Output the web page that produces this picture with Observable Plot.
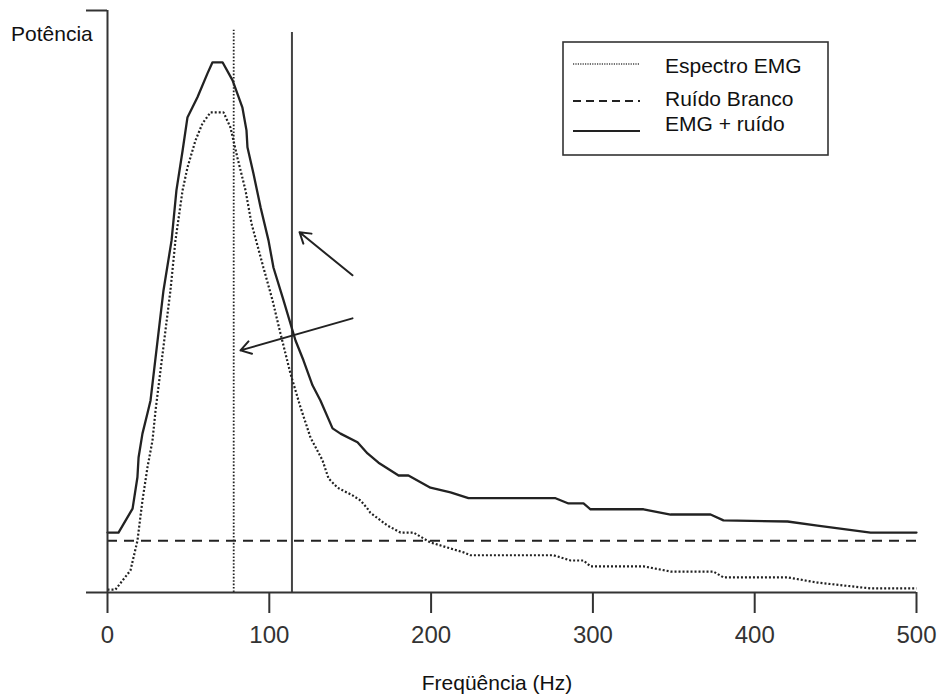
<!DOCTYPE html>
<html><head><meta charset="utf-8">
<script src="https://cdn.jsdelivr.net/npm/d3@7"></script>
<script src="https://cdn.jsdelivr.net/npm/@observablehq/plot@0.6"></script>
<style>
body{margin:0;background:#fff;}
#wrap{position:relative;width:938px;height:697px;font-family:"Liberation Sans",Arial,sans-serif;}
#wrap svg.overlay{position:absolute;left:0;top:0;pointer-events:none;}
</style></head><body><div id="wrap"></div>
<script>
// Espectro EMG (dotted)
const emgFreq = [0,4.9,14.2,18.5,21.6,24.7,27.8,29.7,38.9,42,46.4,49.4,54.4,58.7,63.7,71.7,76,80.3,85.3,89,96.4,102,106.9,113.1,119.3,125.5,132.9,136.6,142.2,151.4,156.4,160.7,162.5,173,181.1,189.1,199.6,220,224.3,275.6,286.2,294.2,298.5,331.3,348,374.5,380.7,420.3,438.8,471.6,500];
const emgPow  = [0.5,0.5,3.8,8.9,15.8,21.5,26.1,31.3,51.9,60.5,69.1,73.0,77.7,80.6,82.5,82.5,79.9,74.7,69.1,63.4,55.8,50.2,44.5,37.6,31.8,26.6,22.7,19.6,18.0,16.7,15.8,14.4,13.7,11.5,10.3,10.3,8.6,6.9,6.4,6.4,5.5,5.5,4.5,4.5,3.6,3.6,2.6,2.6,1.7,0.7,0.7];
// EMG + ruído (solid)
const sumFreq = [0,6.8,15.5,18.5,19.2,21.6,24.7,26.6,34.6,39.6,42.6,46.4,49.4,55.6,61.8,64.9,71.1,77.3,83.4,85.9,86.5,90.2,94.6,99.5,102.6,108.8,116.2,121.1,126.7,131.6,139.1,144,154.5,160.7,167.5,173.1,179.9,186,199.6,212,223.1,276.9,284.9,294.2,298.5,331.3,348,372.7,380.7,420.3,438.8,471.6,500];
const sumPow  = [10.3,10.3,14.4,19.8,23.2,27.3,30.8,33.0,51.9,60.5,69.1,75.9,81.6,85.1,89.2,91.1,91.1,88.0,83.3,79.4,76.5,72.0,66.2,60.5,55.8,50.2,43.3,39.9,35.6,33.0,28.2,27.3,25.8,23.9,22.3,21.3,20.1,20.1,18.0,17.2,16.2,16.2,15.3,15.3,14.3,14.3,13.4,13.4,12.4,12.2,11.5,10.3,10.3];
// Ruído branco (dashed) level
const noiseLevel = 8.9;
// Vertical reference lines
const dottedMarkFreq = 78, dottedMarkTop = 96.6;
const solidMarkFreq = 114, solidMarkTop = 96.2;
// Arrows (tail -> head)
const arrowX1 = [151.4, 151.4], arrowY1 = [54.5, 47.1];
const arrowX2 = [118.7, 82.2],  arrowY2 = [61.9, 41.6];
const xTicks = [0,100,200,300,400,500];
const legendLabels = ["Espectro EMG","Ruído Branco","EMG + ruído"];
const yLabel = "Potência", xLabel = "Freqüência (Hz)";

const emg = emgFreq.map((f,i)=>({f, p: emgPow[i]}));
const sum = sumFreq.map((f,i)=>({f, p: sumPow[i]}));
const arrows = arrowX1.map((x1,i)=>({x1, y1: arrowY1[i], x2: arrowX2[i], y2: arrowY2[i]}));
const ink = "#222";

const chart = Plot.plot({
  width: 938, height: 697,
  marginLeft: 107, marginRight: 22, marginTop: 10, marginBottom: 105,
  x: {domain: [0, 500]},
  y: {domain: [0, 100]},
  style: {fontFamily: "Liberation Sans, Arial, sans-serif", fontSize: "24px", color: ink, background: "#fff"},
  marks: [
    Plot.ruleY([noiseLevel], {x1: 0, x2: 500, stroke: ink, strokeWidth: 2, strokeDasharray: "10,7"}),
    Plot.ruleX([dottedMarkFreq], {y1: 0, y2: dottedMarkTop, stroke: ink, strokeWidth: 1.8, strokeDasharray: "1.6,1.8", strokeLinecap: "butt"}),
    Plot.ruleX([solidMarkFreq], {y1: 0, y2: solidMarkTop, stroke: "#444", strokeWidth: 2}),
    Plot.line(emg, {x: "f", y: "p", stroke: ink, strokeWidth: 2.2, strokeDasharray: "2,2", strokeLinecap: "butt", strokeLinejoin: "miter"}),
    Plot.line(sum, {x: "f", y: "p", stroke: ink, strokeWidth: 2.3}),
    Plot.arrow(arrows, {x1: "x1", y1: "y1", x2: "x2", y2: "y2", stroke: ink, strokeWidth: 2, headLength: 9, headAngle: 65}),
    Plot.ruleY([0], {x1: 0, x2: 500, stroke: "#333", strokeWidth: 2}),
    Plot.ruleX([0], {y1: 0, y2: 100, stroke: "#333", strokeWidth: 2}),
    Plot.axisX({ticks: xTicks, tickSize: 21, tickPadding: 12, strokeWidth: 2, stroke: "#333", label: null, fontSize: 24, fill: "#333"}),
    Plot.axisY({ticks: [0, 100], tickSize: 21, tickFormat: () => "", strokeWidth: 2, stroke: "#333", label: null})
  ]
});
const wrap = document.getElementById("wrap");
wrap.appendChild(chart);

// Overlay: axis titles and legend
const ov = d3.select(wrap).append("svg").attr("class","overlay")
  .attr("width",938).attr("height",697)
  .style("font-family","Liberation Sans, Arial, sans-serif");
ov.append("text").attr("x",11).attr("y",41).attr("font-size",21).attr("fill","#111").text(yLabel);
ov.append("text").attr("x",497).attr("y",690).attr("text-anchor","middle").attr("font-size",21).attr("fill","#111").text(xLabel);

const lg = ov.append("g");
lg.append("rect").attr("x",563).attr("y",42).attr("width",265).attr("height",113)
  .attr("fill","#fff").attr("stroke","#333").attr("stroke-width",1.6);
const sampleY = [64, 101, 131];
const textY = [73, 106, 131];
const dashes = ["1.2,1.2", "8,5", null];
const widths = [1.5, 1.8, 1.8];
legendLabels.forEach((t,i)=>{
  const l = lg.append("line").attr("x1",573).attr("x2",640).attr("y1",sampleY[i]).attr("y2",sampleY[i])
    .attr("stroke", i===0 ? "#444" : ink).attr("stroke-width",widths[i]);
  if (dashes[i]) l.attr("stroke-dasharray",dashes[i]);
  lg.append("text").attr("x",665).attr("y",textY[i]).attr("font-size",21).attr("fill","#111").text(t);
});
</script></body></html>
